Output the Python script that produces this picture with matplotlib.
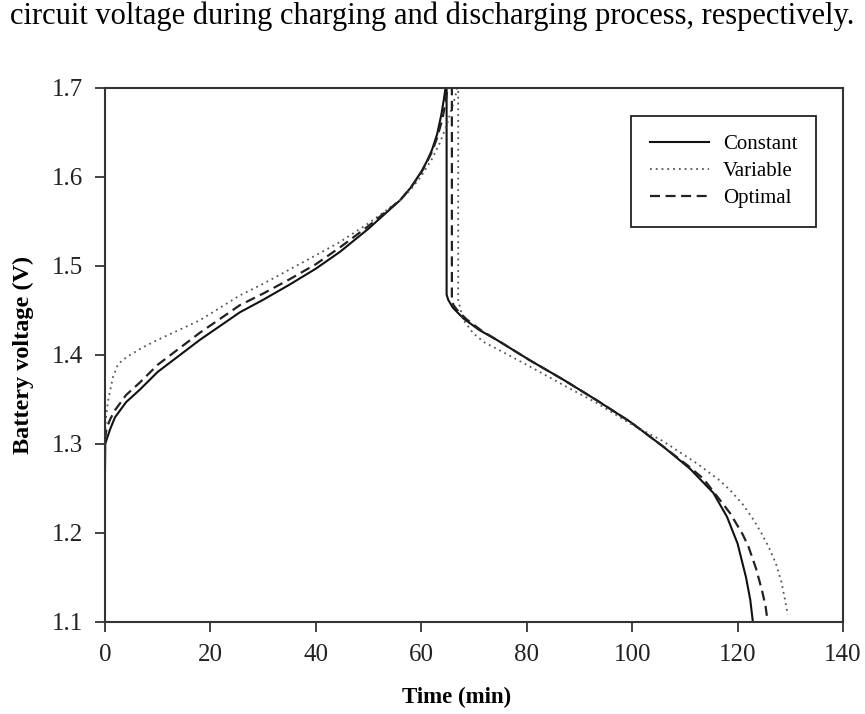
import matplotlib
matplotlib.use("Agg")
import matplotlib.pyplot as plt

plt.rcParams['font.family'] = ['Liberation Serif', 'DejaVu Serif']

# Charging branch (time in min, voltage in V)
const_charge_t = [0, 0.05, 0.3, 1, 1.9, 4, 6.6, 10, 18, 25.6, 30, 35, 40, 44.6, 50, 56, 58, 60, 61, 62, 63, 63.8, 64.3, 64.6]
const_charge_v = [1.27, 1.30, 1.305, 1.317, 1.330, 1.347, 1.361, 1.381, 1.417, 1.448, 1.462, 1.479, 1.497, 1.516, 1.542, 1.574, 1.588, 1.606, 1.617, 1.630, 1.648, 1.670, 1.688, 1.700]
var_charge_t = [0, 0.2, 0.6, 1.5, 2.5, 4.2, 7, 10, 18, 25.6, 30, 35, 40, 44.6, 50, 56, 58, 60, 62, 63.5, 64.8, 65.8, 66.5, 66.8]
var_charge_v = [1.31, 1.33, 1.349, 1.375, 1.390, 1.398, 1.408, 1.417, 1.439, 1.467, 1.480, 1.496, 1.512, 1.527, 1.548, 1.574, 1.586, 1.601, 1.620, 1.638, 1.658, 1.677, 1.692, 1.700]
opt_charge_t = [0, 0.3, 1, 1.9, 4, 6.6, 10, 18, 25.6, 30, 35, 40, 44.6, 50, 56, 58, 60, 61, 62, 63, 64, 64.6, 65.0]
opt_charge_v = [1.305, 1.318, 1.328, 1.338, 1.355, 1.369, 1.389, 1.425, 1.456, 1.469, 1.485, 1.502, 1.521, 1.545, 1.574, 1.588, 1.605, 1.616, 1.628, 1.644, 1.665, 1.684, 1.700]

# Discharging branch
const_dis_t = [64.8, 64.8, 65.1, 66, 68.0, 71, 74.3, 80.6, 87.0, 93.3, 99.6, 105.9, 111.0, 115.4, 118.0, 120.0, 121.6, 122.4, 122.9]
const_dis_v = [1.700, 1.468, 1.462, 1.453, 1.441, 1.428, 1.417, 1.394, 1.372, 1.349, 1.325, 1.297, 1.272, 1.245, 1.218, 1.188, 1.150, 1.125, 1.100]
var_dis_t = [67.0, 67.0, 67.4, 67.9, 69.9, 72, 74.3, 80.6, 87.0, 93.3, 99.6, 105.9, 112.3, 116.4, 118.6, 121, 123, 124.5, 126, 127.3, 128.3, 129.0, 129.5]
var_dis_v = [1.700, 1.462, 1.452, 1.440, 1.424, 1.414, 1.407, 1.387, 1.366, 1.346, 1.323, 1.303, 1.278, 1.260, 1.248, 1.232, 1.215, 1.200, 1.183, 1.165, 1.145, 1.125, 1.108]
opt_dis_t = [65.8, 65.8, 66.1, 67, 68.6, 71.5, 74.6, 80.6, 87.0, 93.3, 99.6, 105.9, 110.5, 113.5, 116, 118.6, 121, 122.1, 123.5, 124.6, 125.3, 125.7]
opt_dis_v = [1.700, 1.462, 1.456, 1.449, 1.440, 1.427, 1.416, 1.394, 1.372, 1.349, 1.325, 1.297, 1.276, 1.261, 1.242, 1.222, 1.198, 1.184, 1.160, 1.136, 1.118, 1.100]

x_ticks = [0, 20, 40, 60, 80, 100, 120, 140]
y_ticks = [1.1, 1.2, 1.3, 1.4, 1.5, 1.6, 1.7]

fig = plt.figure(figsize=(8.65, 7.14), dpi=100)
ax = fig.add_axes([0.1214, 0.1289, 0.8532, 0.7479])

solid_kw = dict(color='#111111', lw=1.5, ls='-')
dot_kw = dict(color='#555555', lw=1.3, ls=(0, (1, 2.2)))
dash_kw = dict(color='#222222', lw=1.6, ls=(0, (4.5, 2.5)))

ax.plot(const_charge_t + const_dis_t, const_charge_v + const_dis_v, label='Constant', **solid_kw)
ax.plot(var_charge_t + var_dis_t, var_charge_v + var_dis_v, label='Variable', **dot_kw)
ax.plot(opt_charge_t + opt_dis_t, opt_charge_v + opt_dis_v, label='Optimal', **dash_kw)

ax.set_xlim(0, 140)
ax.set_ylim(1.1, 1.7)
ax.set_xticks(x_ticks)
ax.set_yticks(y_ticks)
ax.set_xticklabels([str(t) for t in x_ticks])
ax.set_yticklabels([f"{t:.1f}" for t in y_ticks])
ax.tick_params(direction='out', length=7, width=1.2, labelsize=18, colors='#222222', pad=9)
for s in ax.spines.values():
    s.set_linewidth(1.5)
    s.set_color('#333333')

ax.set_xlabel('Time (min)', fontsize=16.5, fontweight='bold')
ax.xaxis.set_label_coords(0.477, -0.122)
ax.xaxis.label.set_va('top')
ax.set_ylabel('Battery voltage (V)', fontsize=17.5, fontweight='bold')
ax.yaxis.set_label_coords(-0.111, 0.5)
ax.yaxis.label.set_va('center')

leg = ax.legend(loc='upper right', bbox_to_anchor=(0.978, 0.967), fontsize=15,
                frameon=True, fancybox=False, edgecolor='#222222', framealpha=1,
                handlelength=2.8, handletextpad=0.7, borderpad=0.9, labelspacing=0.35)
leg.get_frame().set_linewidth(1.3)

fig.text(0.5, 1 - 24 / 714, 'circuit voltage during charging and discharging process, respectively.',
         fontsize=22, va='baseline', ha='center', color='black')

fig.savefig('out.png', dpi=100)
